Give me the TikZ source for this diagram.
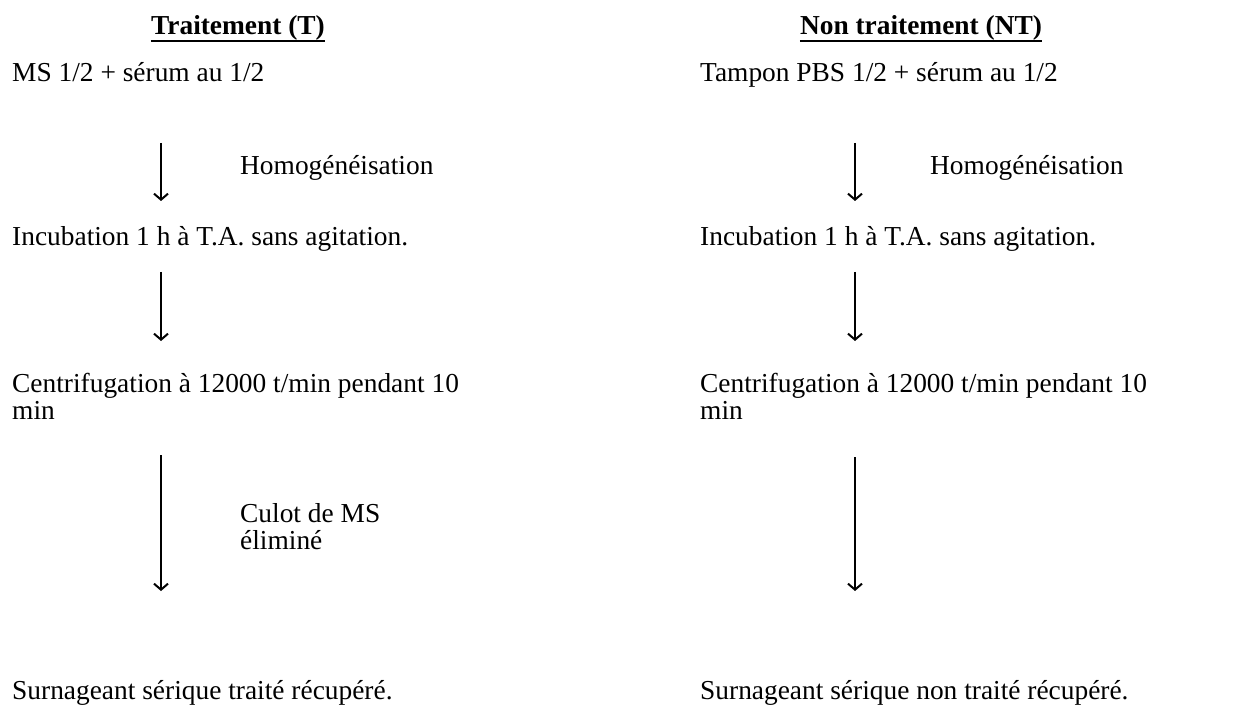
\documentclass[tikz,border=0pt]{standalone}
\usepackage{fontspec}
\setmainfont{Liberation Serif}
\usetikzlibrary{arrows.meta}

\tikzset{
  etape/.style={anchor=base west, inner sep=0pt, align=left,
    font=\fontsize{27.4}{27}\selectfont},
  titre/.style={anchor=base, inner sep=0pt,
    font=\fontsize{27.4}{27}\selectfont\bfseries},
  souligne/.style={line width=1.3pt},
  fleche/.style={line width=1.6pt, -{Straight Barb[length=6pt,width=14pt,line width=2pt]}}
}

\begin{document}
\begin{tikzpicture}[x=1pt,y=-1pt]

	\useasboundingbox (0,0) rectangle (1239,719);

	% titres
	\node[titre] (tTitre) at (238,35) {Traitement (T)};
	\node[titre] (ntTitre) at (921,35) {Non traitement (NT)};
	\draw[souligne] ([yshift=-6pt]tTitre.base west) -- ([yshift=-6pt]tTitre.base east);
	\draw[souligne] ([yshift=-6pt]ntTitre.base west) -- ([yshift=-6pt]ntTitre.base east);

	% traitement
	\node[etape] (t1) at (12,82) {MS 1/2 + sérum au 1/2};
	\node[etape] (t2) at (12,246) {Incubation 1 h à T.A. sans agitation.};
	\node[etape] (t3) at (12,419) {Centrifugation à 12000 t/min pendant 10\\min};
	\node[etape] (t4) at (12,699) {Surnageant sérique traité récupéré.};

	\node[etape] (tHomo) at (240,175) {Homogénéisation};
	\node[etape] (tCulot) at (240,549) {Culot de MS\\éliminé};

	\coordinate (tA1) at (161,143);
	\coordinate (tB1) at (161,201);
	\coordinate (tA2) at (161,272);
	\coordinate (tB2) at (161,341);
	\coordinate (tA3) at (161,455);
	\coordinate (tB3) at (161,591);

	\draw[fleche] (tA1) -- (tB1);
	\draw[fleche] (tA2) -- (tB2);
	\draw[fleche] (tA3) -- (tB3);

	% non traitement
	\node[etape] (nt1) at (700,82) {Tampon PBS 1/2 + sérum au 1/2};
	\node[etape] (nt2) at (700,246) {Incubation 1 h à T.A. sans agitation.};
	\node[etape] (nt3) at (700,419) {Centrifugation à 12000 t/min pendant 10\\min};
	\node[etape] (nt4) at (700,699) {Surnageant sérique non traité récupéré.};

	\node[etape] (ntHomo) at (930,175) {Homogénéisation};

	\coordinate (ntA1) at (855,143);
	\coordinate (ntB1) at (855,201);
	\coordinate (ntA2) at (855,272);
	\coordinate (ntB2) at (855,341);
	\coordinate (ntA3) at (855,457);
	\coordinate (ntB3) at (855,591);

	\draw[fleche] (ntA1) -- (ntB1);
	\draw[fleche] (ntA2) -- (ntB2);
	\draw[fleche] (ntA3) -- (ntB3);

\end{tikzpicture}
\end{document}
